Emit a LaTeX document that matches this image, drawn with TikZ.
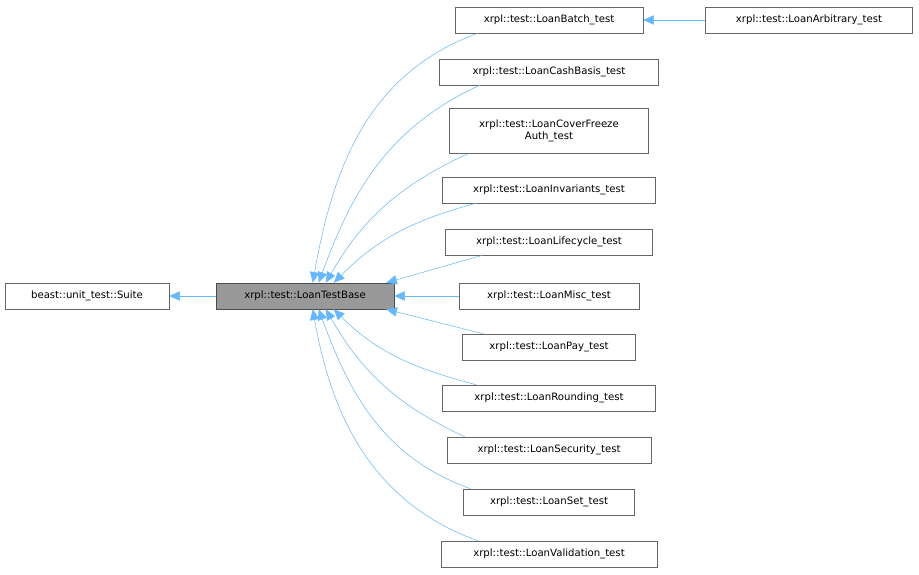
\documentclass[tikz,border=0pt]{standalone}
\usepackage{fontspec}
\setmainfont{DejaVu Sans}
\usetikzlibrary{arrows.meta,calc}
\definecolor{edgeblue}{HTML}{63B8FF}
\definecolor{boxgray}{HTML}{666666}
\tikzset{
  cls/.style={draw=boxgray,fill=white,font=\fontsize{7.6pt}{9pt}\selectfont,inner sep=0pt,minimum height=19.5pt,align=center},
  base/.style={cls,fill=black!40,draw=black!70},
  inh/.style={draw=edgeblue,-{Triangle[length=8pt,width=7pt,fill=edgeblue]}}
}
\begin{document}
\begin{tikzpicture}[x=0.75pt,y=-0.75pt]
  \useasboundingbox (0,0) rectangle (919,574);
  \node[cls,minimum width=123pt] (suite) at (87,296) {beast::unit\_test::Suite};
  \node[base,minimum width=133.5pt] (ltb) at (305,296) {xrpl::test::LoanTestBase};
  \node[cls,minimum width=141pt] (batch) at (549,20) {xrpl::test::LoanBatch\_test};
  \node[cls,minimum width=155pt] (arbitrary) at (809,20) {xrpl::test::LoanArbitrary\_test};
  \node[cls,minimum width=164pt] (cash) at (549,72) {xrpl::test::LoanCashBasis\_test};
  \node[cls,minimum width=149pt,minimum height=34pt] (cover) at (549,131) {xrpl::test::LoanCoverFreeze\\Auth\_test};
  \node[cls,minimum width=160pt] (invariants) at (549,190) {xrpl::test::LoanInvariants\_test};
  \node[cls,minimum width=155pt] (lifecycle) at (549,242) {xrpl::test::LoanLifecycle\_test};
  \node[cls,minimum width=135pt] (misc) at (549,296) {xrpl::test::LoanMisc\_test};
  \node[cls,minimum width=130pt] (pay) at (549,347) {xrpl::test::LoanPay\_test};
  \node[cls,minimum width=160pt] (rounding) at (549,398) {xrpl::test::LoanRounding\_test};
  \node[cls,minimum width=153pt] (security) at (549,450) {xrpl::test::LoanSecurity\_test};
  \node[cls,minimum width=128pt] (set) at (549,502) {xrpl::test::LoanSet\_test};
  \node[cls,minimum width=162pt] (validation) at (549,554) {xrpl::test::LoanValidation\_test};
  % inheritance edges
  \draw[inh] (ltb) -- (suite);
  \draw[inh] (arbitrary) -- (batch);
  \draw[inh] ($(batch.south west)+(23,0)$) to[out=200,in=80] ($(ltb.north west)+(97,0)$);
  \draw[inh] ($(cash.south west)+(40,0)$) to[out=205,in=70] ($(ltb.north west)+(103,0)$);
  \draw[inh] ($(cover.south west)+(18,0)$) to[out=205,in=60] ($(ltb.north west)+(110,0)$);
  \draw[inh] ($(invariants.south west)+(34,0)$) to[out=195,in=45] ($(ltb.north west)+(118,0)$);
  \draw[inh] ($(lifecycle.south west)+(37,0)$) -- ($(ltb.north east)+(-8,0)$);
  \draw[inh] (misc) -- (ltb);
  \draw[inh] ($(pay.north west)+(21,0)$) -- ($(ltb.south east)+(-8,0)$);
  \draw[inh] ($(rounding.north west)+(34,0)$) to[out=165,in=-45] ($(ltb.south west)+(118,0)$);
  \draw[inh] ($(security.north west)+(18,0)$) to[out=155,in=-60] ($(ltb.south west)+(110,0)$);
  \draw[inh] ($(set.north west)+(7,0)$) to[out=160,in=-70] ($(ltb.south west)+(103,0)$);
  \draw[inh] ($(validation.north west)+(37,0)$) to[out=160,in=-80] ($(ltb.south west)+(97,0)$);
\end{tikzpicture}
\end{document}
